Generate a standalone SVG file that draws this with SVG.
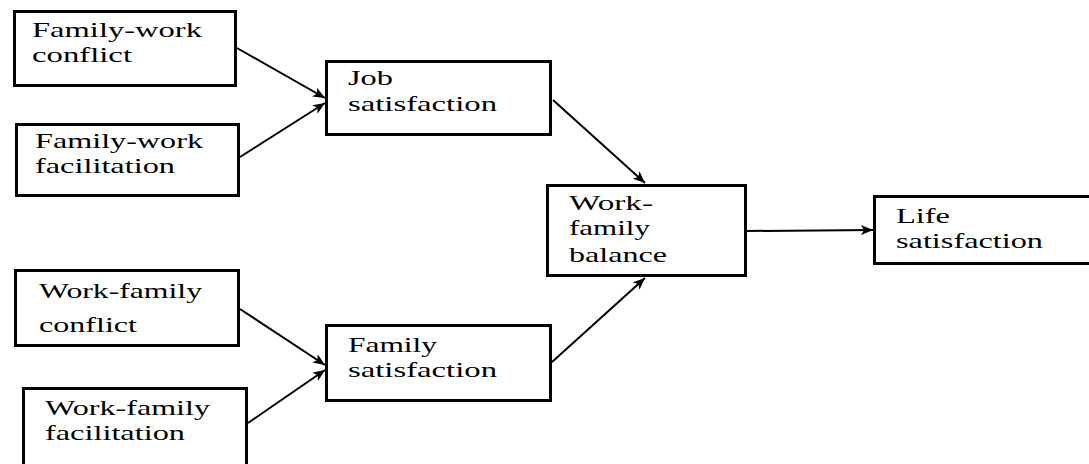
<svg xmlns="http://www.w3.org/2000/svg" width="1089" height="464" viewBox="0 0 1089 464">
<style>
.box{fill:#fff;stroke:#000;stroke-width:3}
.t{font-family:'Liberation Serif','Times New Roman',serif;font-size:22px;fill:#000}
.c{stroke:#000;stroke-width:2;fill:none;marker-end:url(#ah)}
</style>
<defs>
<marker id="ah" viewBox="0 0 12 10" refX="12" refY="5" markerWidth="12" markerHeight="10" markerUnits="userSpaceOnUse" orient="auto">
<path d="M0,0 L12,5 L0,10 L3,5 Z" fill="#000"/>
</marker>
</defs>
<rect width="1089" height="464" fill="#fff"/>
<g id="connectors">
<line class="c" x1="237" y1="48" x2="325" y2="98"/>
<line class="c" x1="240" y1="157" x2="325" y2="103"/>
<line class="c" x1="553" y1="100" x2="645" y2="183"/>
<line class="c" x1="552" y1="362" x2="645" y2="278"/>
<line class="c" x1="747" y1="231" x2="873" y2="230"/>
<line class="c" x1="240" y1="309" x2="325" y2="365"/>
<line class="c" x1="248" y1="423" x2="325" y2="370"/>
</g>
<g id="fw-conflict">
<rect class="box" x="14.5" y="11.5" width="221" height="74"/>
<text class="t" x="32" y="37" textLength="170" lengthAdjust="spacingAndGlyphs">Family-work</text>
<text class="t" x="32" y="62" textLength="100" lengthAdjust="spacingAndGlyphs">conflict</text>
</g>
<g id="fw-facilitation">
<rect class="box" x="16.5" y="124.5" width="222" height="71"/>
<text class="t" x="35" y="148" textLength="168" lengthAdjust="spacingAndGlyphs">Family-work</text>
<text class="t" x="35" y="173" textLength="140" lengthAdjust="spacingAndGlyphs">facilitation</text>
</g>
<g id="job-satisfaction">
<rect class="box" x="326.5" y="61.5" width="224" height="73"/>
<text class="t" x="348" y="85" textLength="45" lengthAdjust="spacingAndGlyphs">Job</text>
<text class="t" x="348" y="111" textLength="149" lengthAdjust="spacingAndGlyphs">satisfaction</text>
</g>
<g id="wf-balance">
<rect class="box" x="547.5" y="185.5" width="198" height="90"/>
<text class="t" x="569" y="210" textLength="84" lengthAdjust="spacingAndGlyphs">Work-</text>
<text class="t" x="569" y="235" textLength="81" lengthAdjust="spacingAndGlyphs">family</text>
<text class="t" x="569" y="262" textLength="98" lengthAdjust="spacingAndGlyphs">balance</text>
</g>
<g id="life-satisfaction">
<rect class="box" x="874.5" y="196.5" width="230" height="67"/>
<text class="t" x="896" y="223" textLength="54" lengthAdjust="spacingAndGlyphs">Life</text>
<text class="t" x="896" y="248" textLength="147" lengthAdjust="spacingAndGlyphs">satisfaction</text>
</g>
<g id="wf-conflict">
<rect class="box" x="15.5" y="270.5" width="223" height="75"/>
<text class="t" x="39" y="298" textLength="163" lengthAdjust="spacingAndGlyphs">Work-family</text>
<text class="t" x="39" y="332" textLength="98" lengthAdjust="spacingAndGlyphs">conflict</text>
</g>
<g id="wf-facilitation">
<rect class="box" x="23.5" y="388.5" width="223" height="90"/>
<text class="t" x="45" y="415" textLength="165" lengthAdjust="spacingAndGlyphs">Work-family</text>
<text class="t" x="45" y="440" textLength="140" lengthAdjust="spacingAndGlyphs">facilitation</text>
</g>
<g id="family-satisfaction">
<rect class="box" x="326.5" y="325.5" width="224" height="75"/>
<text class="t" x="348" y="352" textLength="89" lengthAdjust="spacingAndGlyphs">Family</text>
<text class="t" x="348" y="377" textLength="149" lengthAdjust="spacingAndGlyphs">satisfaction</text>
</g>
</svg>
